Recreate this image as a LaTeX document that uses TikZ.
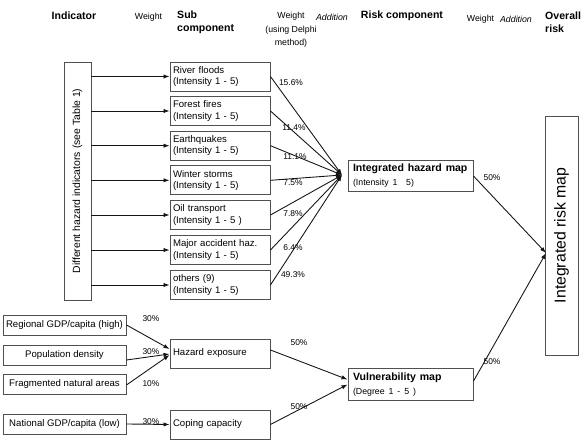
\documentclass[tikz,border=0pt]{standalone}
\usepackage{fontspec}
\setmainfont{Liberation Sans}
\usepackage{xcolor}
\definecolor{ColBox}{RGB}{80,80,80}
\definecolor{ColLine}{RGB}{20,20,20}
\usetikzlibrary{arrows.meta}
\tikzstyle{SubBox}=[draw=ColBox,line width=0.8pt,minimum width=30mm,
minimum height=8.7mm,text width=28.2mm,inner xsep=0.9mm,align=left,
font=\fontsize{8.2}{9.7}\selectfont]
\tikzstyle{IndBox}=[draw=ColBox,line width=0.8pt,minimum width=36.9mm,
minimum height=6mm,inner sep=0.5mm,font=\fontsize{8.2}{9.7}\selectfont]
\tikzstyle{MapBox}=[draw=ColBox,line width=0.8pt,minimum width=37.5mm,
minimum height=8.8mm,text width=34.5mm,inner xsep=1.5mm,align=left]
\tikzstyle{TallBox}=[draw=ColBox,line width=0.8pt,rotate=90]
\tikzstyle{Edge}=[draw=ColLine,line width=0.75pt,
-{Latex[length=1.8mm,width=1.3mm]}]
\tikzstyle{Pct}=[font=\fontsize{7.2}{8}\selectfont,inner sep=0pt]
\tikzstyle{Head}=[font=\fontsize{9}{11}\selectfont\bfseries,inner sep=0pt]
\tikzstyle{HeadST}=[font=\fontsize{7.5}{11.5}\selectfont,inner sep=0pt]
\newcommand{\Intens}{\\(Intensity 1 - 5)}

\begin{document}
\begin{tikzpicture}[x=0.3mm,y=-0.3mm]
            \useasboundingbox(0,0)rectangle(585,445);
            % column heads
            \node[Head](hInd)at(74,16){Indicator};
            \node[HeadST](hW1)at(148.5,17){Weight};
            \node[Head,align=left,anchor=west](hSub)at(177,22.5)
                {Sub\\component};
            \node[HeadST,align=center,anchor=north](hW2)at(291,12)
                {Weight\\(using Delphi\\method)};
            \node[HeadST,font=\fontsize{7.5}{9}\selectfont\itshape](hA1)
                at(332,17.5){Addition};
            \node[Head](hRisk)at(402,16){Risk component};
            \node[HeadST](hW3)at(480.5,19){Weight};
            \node[HeadST,font=\fontsize{7.5}{9}\selectfont\itshape](hA2)
                at(516,19){Addition};
            \node[Head,align=left,anchor=west](hAll)at(545,22.5)
                {Overall\\risk};
            % hazard indicators and sub components
            \node[TallBox,minimum width=71.4mm,minimum height=8.1mm,
                font=\fontsize{8.9}{10}\selectfont](Hz)at(77.5,181)
                {Different hazard indicators (see Table 1)};
            \node[SubBox](S1)at(220,76.5){River floods\Intens};
            \node[SubBox](S2)at(220,111){Forest fires\Intens};
            \node[SubBox](S3)at(220,145.7){Earthquakes\Intens};
            \node[SubBox](S4)at(220,180.3){Winter storms\Intens};
            \node[SubBox](S5)at(220,215){Oil transport\\(Intensity 1 - 5 )};
            \node[SubBox](S6)at(220,250){Major accident haz.\Intens};
            \node[SubBox](S7)at(220,285){others (9)\Intens};
            \draw[Edge](Hz.south|-S1)--(S1.west);
            \draw[Edge](Hz.south|-S2)--(S2.west);
            \draw[Edge](Hz.south|-S3)--(S3.west);
            \draw[Edge](Hz.south|-S4)--(S4.west);
            \draw[Edge](Hz.south|-S5)--(S5.west);
            \draw[Edge](Hz.south|-S6)--(S6.west);
            \draw[Edge](Hz.south|-S7)--(S7.west);
            % integrated hazard map
            \node[MapBox](IH)at(410.5,176)
                {\fontsize{9}{10.5}\selectfont\bfseries Integrated hazard map\\
                \fontsize{7.5}{9}\selectfont\mdseries (Intensity 1\enspace\enspace 5)};
            \coordinate(J)at(342,175);
            \draw[Edge](S1.east)--(J);
            \draw[Edge](S2.east)--(J);
            \draw[Edge](S3.east)--(J);
            \draw[Edge](S4.east)--(J);
            \draw[Edge](S5.east)--(J);
            \draw[Edge](S6.east)--(J);
            \draw[Edge](S7.east)--(J);
            \node[Pct](p1)at(291,83){15.6\%};
            \node[Pct](p2)at(294,128){11.4\%};
            \node[Pct](p3)at(295,157){11.1\%};
            \node[Pct](p4)at(293,182.5){7.5\%};
            \node[Pct](p5)at(293,214){7.8\%};
            \node[Pct](p6)at(293,248){6.4\%};
            \node[Pct](p7)at(293,275){49.3\%};
            % vulnerability
            \node[IndBox](I1)at(64.5,325){Regional GDP/capita (high)};
            \node[IndBox](I2)at(64.5,355){Population density};
            \node[IndBox](I3)at(64.5,384){Fragmented natural areas};
            \node[IndBox](I4)at(64.5,424){National GDP/capita (low)};
            \node[SubBox](HE)at(220,354){Hazard exposure\vphantom{\rule[-3pt]{0pt}{1pt}}};
            \node[SubBox](CC)at(220,424.5){Coping capacity\vphantom{\rule[-3pt]{0pt}{1pt}}};
            \draw[Edge](I1.east)--([yshift=1.5mm]HE.west);
            \draw[Edge]([yshift=-1.5mm]I2.east)--(HE.west);
            \draw[Edge]([yshift=-0.3mm]I3.east)--([yshift=-0.3mm]HE.west);
            \draw[Edge](I4.east)--(CC.west);
            \node[Pct](q1)at(151,319){30\%};
            \node[Pct](q2)at(151,352){30\%};
            \node[Pct](q3)at(151,384){10\%};
            \node[Pct](q4)at(151,422){30\%};
            \node[MapBox](VM)at(410.5,384.5)
                {\fontsize{9}{10.5}\selectfont\bfseries Vulnerability map\\
                \fontsize{7.5}{9}\selectfont\mdseries (Degree 1 - 5 )};
            \draw[Edge]([yshift=1.2mm]HE.east)--([yshift=1.5mm]VM.west);
            \draw[Edge](CC.east)--(VM.west);
            \node[Pct](q5)at(299,343){50\%};
            \node[Pct](q6)at(299,407){50\%};
            % overall risk
            \node[TallBox,minimum width=71.7mm,minimum height=9.9mm,
                font=\fontsize{13.5}{15}\selectfont](IR)at(561.5,235.5)
                {Integrated risk map};
            \coordinate(J2)at(546,253);
            \draw[Edge](IH.east)--(J2);
            \draw[Edge]([yshift=1mm]VM.east)--(J2);
            \node[Pct](r1)at(492,178){50\%};
            \node[Pct](r2)at(492,362){50\%};
        \end{tikzpicture}
\end{document}
